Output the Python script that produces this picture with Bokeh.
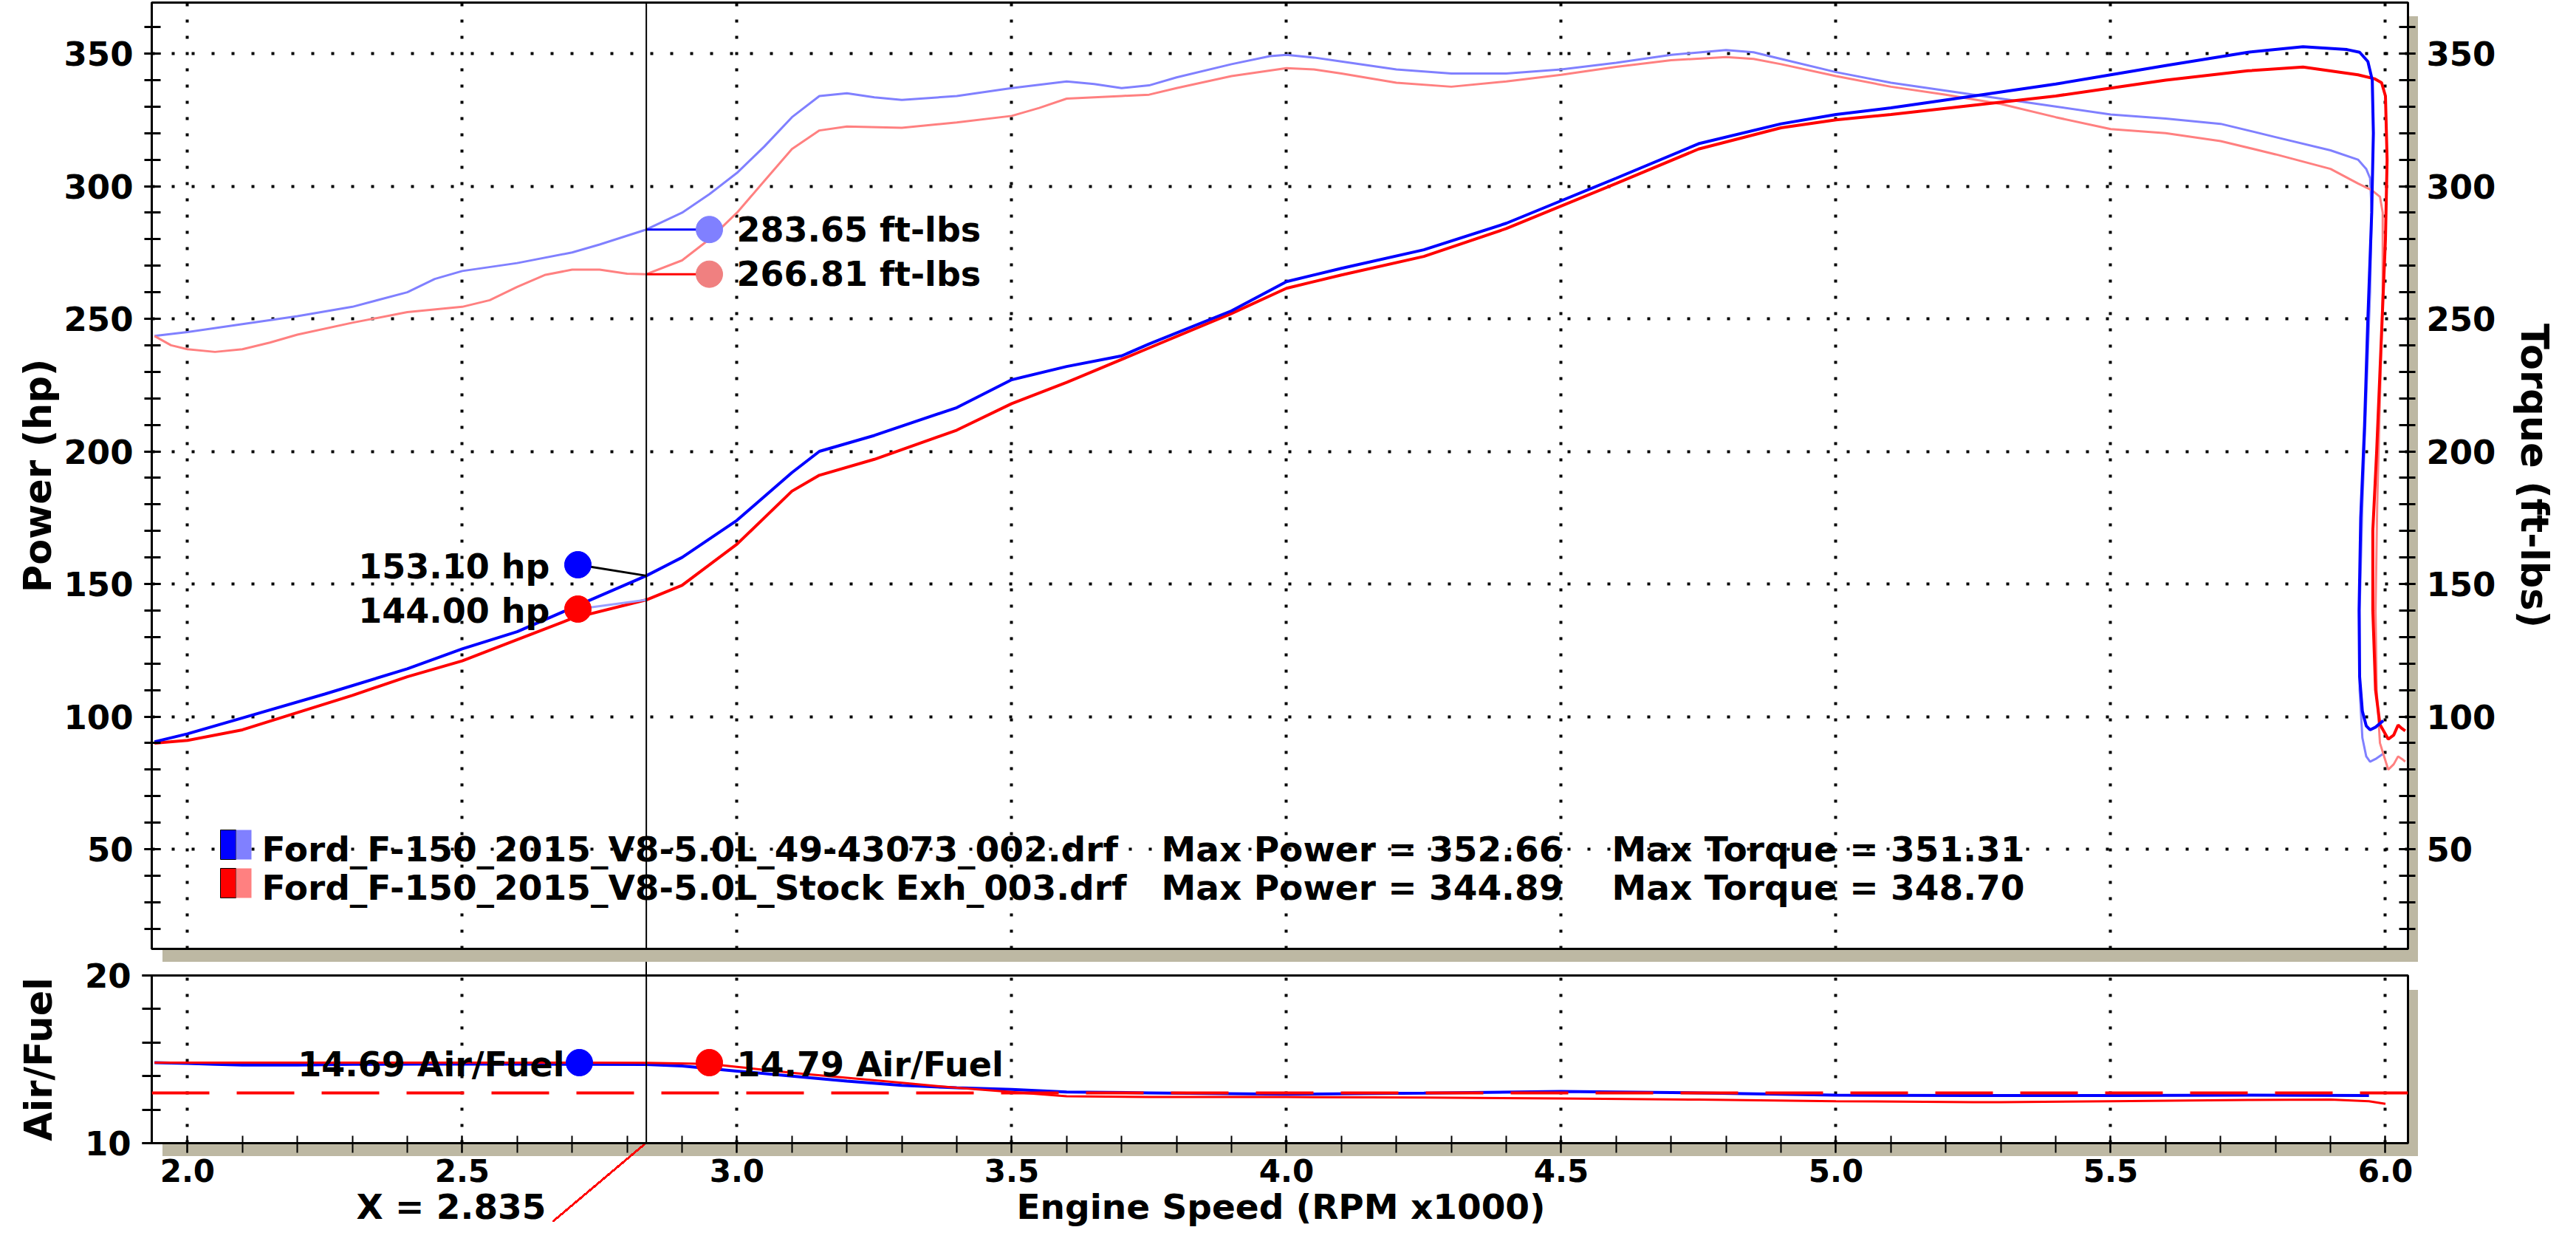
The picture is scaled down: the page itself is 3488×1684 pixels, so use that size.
import math
from bokeh.plotting import figure
from bokeh.layouts import column
from bokeh.models import (LinearAxis, SingleIntervalTicker, FixedTicker, Label, Span,
                          Range1d, NumeralTickFormatter, Grid)
from bokeh.embed import file_html
from bokeh.resources import INLINE

FONT = "DejaVu Sans"

# ---------------- data ----------------
legend_names = ["Ford_F-150_2015_V8-5.0L_49-43073_002.drf",
                "Ford_F-150_2015_V8-5.0L_Stock Exh_003.drf"]
max_power = [352.66, 344.89]
max_torque = [351.31, 348.70]

cursor_rpm = 2.835
cursor_hp = [153.10, 144.00]
cursor_tq = [283.65, 266.81]
cursor_afr = [14.69, 14.79]
afr_target = 13.0

x_ticks = [2.0, 2.5, 3.0, 3.5, 4.0, 4.5, 5.0, 5.5, 6.0]
power_ticks = [50, 100, 150, 200, 250, 300, 350]

rpm_hp_blue = [1.94, 2.0, 2.1, 2.25, 2.4, 2.5, 2.6, 2.7, 2.835, 2.9, 3.0, 3.1, 3.15, 3.25, 3.4,
               3.5, 3.6, 3.7, 3.75, 3.9, 4.0, 4.1, 4.25, 4.4, 4.5, 4.6, 4.75, 4.9, 5.0, 5.1,
               5.25, 5.4, 5.5, 5.6, 5.75, 5.85, 5.93, 5.953, 5.968, 5.976, 5.978, 5.975, 5.968,
               5.962, 5.955, 5.952, 5.953, 5.958, 5.965, 5.972, 5.982, 5.996]
hp_blue = [90.5, 93.5, 99.5, 108.5, 118, 125.5, 132, 141, 153.1, 160, 174, 192, 200, 206, 216.5,
           227, 232, 236, 240.5, 253, 264, 269, 276, 286, 294.5, 303, 316, 323.5, 327, 329.5,
           334, 338.5, 342, 345.5, 350.5, 352.6, 351.5, 350.5, 347, 340, 320, 290, 250,
           210, 175, 140, 115, 102, 96.5, 95, 96, 98.5]

rpm_hp_red = [1.94, 2.0, 2.1, 2.2, 2.3, 2.4, 2.5, 2.6, 2.7, 2.835, 2.9, 3.0, 3.1, 3.15, 3.25,
              3.4, 3.5, 3.6, 3.75, 3.9, 4.0, 4.1, 4.25, 4.4, 4.5, 4.6, 4.75, 4.9, 5.0, 5.1,
              5.25, 5.4, 5.5, 5.6, 5.75, 5.85, 5.95, 5.98, 5.993, 6.0, 6.003, 6.0, 5.992,
              5.984, 5.977, 5.977, 5.982, 5.99, 6.005, 6.015, 6.023, 6.03, 6.036]
hp_red = [90, 91, 95, 101.5, 108, 115, 121, 129, 137, 144.0, 149.5, 165, 185, 191, 197,
          208, 218, 226, 239, 252, 261.5, 266.5, 273.5, 284, 292.5, 301, 314, 322, 325, 327,
          330.5, 334, 337, 340, 343.5, 344.9, 342, 340.5, 339, 334, 310, 280, 240,
          200, 170, 140, 110, 97, 91.5, 93, 96.8, 95.5, 94.6]

rpm_tq_blue = [1.94, 2.0, 2.1, 2.2, 2.3, 2.4, 2.45, 2.5, 2.6, 2.7, 2.75, 2.835, 2.9, 2.95, 3.0,
               3.05, 3.1, 3.15, 3.2, 3.25, 3.3, 3.4, 3.5, 3.6, 3.65, 3.7, 3.75, 3.8, 3.9, 3.97,
               4.0, 4.05, 4.1, 4.2, 4.3, 4.4, 4.5, 4.6, 4.7, 4.8, 4.85, 4.9, 5.0, 5.1, 5.2,
               5.3, 5.4, 5.5, 5.6, 5.7, 5.8, 5.9, 5.95, 5.965, 5.972, 5.975, 5.972, 5.965,
               5.958, 5.953, 5.953, 5.958, 5.965, 5.972, 5.982, 5.996]
tq_blue = [243.5, 245, 248, 251, 254.5, 260, 265, 268, 271, 275, 278, 283.65, 290, 297, 305,
           315, 326, 334, 335, 333.5, 332.5, 334, 337, 339.5, 338.5, 337, 338, 341, 346, 349,
           349.5, 348.5, 347, 344, 342.5, 342.5, 344, 346.5, 349.5, 351.3, 350.5, 348, 343, 339, 336,
           333, 330, 327, 325.5, 323.5, 318.5, 313.5, 310, 306.5, 303, 290, 260, 220,
           180, 140, 110, 92, 85, 83, 84, 86]

rpm_tq_red = [1.94, 1.97, 2.0, 2.05, 2.1, 2.15, 2.2, 2.3, 2.4, 2.5, 2.55, 2.6, 2.65, 2.7, 2.75,
              2.8, 2.835, 2.9, 2.95, 3.0, 3.05, 3.1, 3.15, 3.2, 3.3, 3.4, 3.5, 3.55, 3.6, 3.7,
              3.75, 3.8, 3.9, 4.0, 4.05, 4.1, 4.2, 4.3, 4.4, 4.5, 4.6, 4.7, 4.8, 4.85, 4.9,
              5.0, 5.1, 5.2, 5.3, 5.4, 5.5, 5.6, 5.7, 5.8, 5.9, 5.95, 5.975, 5.99, 5.995,
              5.995, 5.99, 5.985, 5.982, 5.984, 5.99, 6.005, 6.015, 6.023, 6.03, 6.036]
tq_red = [243.5, 240, 238.5, 237.5, 238.5, 241, 244, 248.5, 252.5, 254.5, 257, 262, 266.5, 268.5, 268.5,
          267, 266.81, 272, 280, 290, 302, 314, 321, 322.5, 322, 324, 326.5, 329.5, 333, 334,
          334.5, 337, 341.5, 344.5, 344, 342.5, 339, 337.5, 339.5, 342, 345, 347.5, 348.7, 348, 346,
          341.5, 337.5, 334.5, 331, 326, 321.5, 320, 317, 312, 306.5, 301, 298.5, 296, 290,
          260, 220, 180, 140, 110, 90, 80, 82, 85, 84, 83]

rpm_afr_blue = [1.94, 2.0, 2.05, 2.1, 2.2, 2.3, 2.5, 2.7, 2.835, 2.9, 3.0, 3.1, 3.2, 3.3, 3.4,
                3.5, 3.6, 3.75, 4.0, 4.25, 4.5, 4.75, 5.0, 5.25, 5.5, 5.75, 5.97]
afr_blue = [14.80, 14.76, 14.70, 14.66, 14.66, 14.70, 14.72, 14.70, 14.69, 14.60, 14.30, 14.00,
            13.70, 13.45, 13.30, 13.20, 13.05, 13.00, 12.92, 12.98, 13.08, 13.00, 12.86, 12.84,
            12.84, 12.86, 12.84]
rpm_afr_red = [1.94, 2.0, 2.2, 2.5, 2.7, 2.835, 2.95, 3.0, 3.1, 3.2, 3.3, 3.4, 3.5, 3.6, 3.75,
               4.0, 4.25, 4.5, 4.75, 5.0, 5.25, 5.3, 5.5, 5.75, 5.9, 5.97, 6.0]
afr_red = [14.80, 14.80, 14.80, 14.80, 14.80, 14.79, 14.72, 14.55, 14.20, 13.90, 13.60, 13.30,
           13.05, 12.80, 12.75, 12.75, 12.72, 12.66, 12.60, 12.50, 12.45, 12.44, 12.50, 12.58,
           12.60, 12.50, 12.35]

# ---------------- colours / geometry ----------------
BLUE, LBLUE = "#0000ff", "#8080ff"
RED, LRED = "#ff0000", "#ff8080"
SHADOW = "#bdb8a3"

X0, X1 = 1.935, 6.041
Y0, Y1 = 12.4, 369.22
FL, FR = 213, 3268          # frame left/right (page px)
TT, TB = 11, 1292           # top frame top/bottom
BT, BB = 1328, 1555         # bottom frame top/bottom
PXU = (FR - FL) / (X1 - X0)
PYU = (TB - TT) / (Y1 - Y0)
BYU = (BB - BT) / 10.0

def tx(px): return X0 + (px - FL) / PXU
def ty(py): return Y1 - (py - TT) / PYU
def by(py): return 20 - (py - BT) / BYU

def lab(fig, x, y, text, size, align="left", color="black"):
    fig.add_layout(Label(x=x, y=y, text=text, text_font=FONT, text_font_style="bold",
                         text_font_size=f"{size}px", text_align=align, text_baseline="middle",
                         text_color=color))

def style_axis(ax, tick_in=12, tick_out=10, width=3, size=45):
    ax.axis_line_width = 3
    ax.axis_line_color = "black"
    ax.major_tick_in = tick_in
    ax.major_tick_out = tick_out
    ax.minor_tick_in = tick_in
    ax.minor_tick_out = tick_out
    ax.major_tick_line_width = width
    ax.minor_tick_line_width = width
    ax.major_tick_line_color = "black"
    ax.minor_tick_line_color = "black"
    ax.major_label_text_font = FONT
    ax.major_label_text_font_style = "bold"
    ax.major_label_text_font_size = f"{size}px"
    ax.major_label_text_color = "black"
    ax.major_label_standoff = 15
    ax.axis_label_text_font = FONT
    ax.axis_label_text_font_style = "bold"
    ax.axis_label_text_font_size = "51px"
    ax.axis_label_text_color = "black"

def grad(x, y, w, h, color):
    return f"linear-gradient({color},{color}) {x}px {y}px / {w}px {h}px no-repeat"

cx_px = FL + (cursor_rpm - X0) * PXU   # cursor position on page

# page-level decorations behind the transparent figure borders (drop shadows, cursor gap)
top_bg = ", ".join([
    grad(FR - 8, 22, 14, 1280, SHADOW),
    grad(220, TB - 8, FR + 14 - 228, 18, SHADOW),
    grad(round(cx_px) - 9, TB - 8, 2, 18, "#000000"),
])
ldr_w, ldr_h = round(cx_px) - 756, 1662 - BB
bot_bg = ", ".join([
    grad(round(cx_px) - 9, 0, 2, 18, "#000000"),
    (f"linear-gradient(to bottom right, transparent calc(50% - 1.5px), {RED} calc(50% - 1.5px), "
     f"{RED} calc(50% + 1.5px), transparent calc(50% + 1.5px)) 748px {BB - 1310}px / "
     f"{ldr_w}px {ldr_h}px no-repeat"),
    grad(FR - 8, 38, 14, 225, SHADOW),
    grad(220, BB - 1310, FR + 14 - 228, 18, SHADOW),
])

# ---------------- top panel ----------------
p = figure(width=3472, height=1302, x_range=Range1d(X0, X1), y_range=Range1d(Y0, Y1),
           output_backend="svg", toolbar_location=None, x_axis_location=None,
           y_axis_location="left", min_border_left=FL - 8, min_border_right=3480 - FR,
           min_border_top=TT - 8, min_border_bottom=18, styles={"background": top_bg})
p.border_fill_alpha = 0
p.background_fill_color = "white"
p.outline_line_color = "black"
p.outline_line_width = 3
p.outline_line_alpha = 1.0

p.yaxis.ticker = SingleIntervalTicker(interval=50, num_minor_ticks=5)
style_axis(p.yaxis[0])
p.yaxis.axis_label = "Power (hp)"
p.yaxis.axis_label_standoff = 3
rax = LinearAxis(ticker=SingleIntervalTicker(interval=50, num_minor_ticks=5))
style_axis(rax)
rax.axis_label = "Torque (ft-lbs)"
rax.axis_label_standoff = 20
p.add_layout(rax, "right")

if len(p.xgrid) == 0:
    p.add_layout(Grid(dimension=0, ticker=FixedTicker(ticks=x_ticks)))
else:
    p.xgrid.ticker = FixedTicker(ticks=x_ticks)
p.ygrid.ticker = FixedTicker(ticks=power_ticks)
for g in p.xgrid:
    g.grid_line_color = "black"
    g.grid_line_width = 4
    g.grid_line_dash = "4 18"
for g in p.ygrid:
    g.grid_line_color = "black"
    g.grid_line_width = 4
    g.grid_line_dash = "4 23"

p.line(rpm_tq_blue, tq_blue, line_color=LBLUE, line_width=3)
p.line(rpm_tq_red, tq_red, line_color=LRED, line_width=3)
p.line(rpm_hp_red, hp_red, line_color=RED, line_width=4)
p.line(rpm_hp_blue, hp_blue, line_color=BLUE, line_width=4)

p.add_layout(Span(location=cursor_rpm, dimension="height", line_color="black", line_width=2))

# cursor read-outs (torque)
tq_dot_x = tx(968)
p.segment(x0=[cursor_rpm, cursor_rpm], y0=cursor_tq, x1=[tq_dot_x, tq_dot_x], y1=cursor_tq,
          line_color=[BLUE, RED], line_width=3)
p.scatter([tq_dot_x, tq_dot_x], cursor_tq, size=36, fill_color=[LBLUE, "#f08080"],
          line_color=[LBLUE, "#f08080"])
lab(p, tx(1005), cursor_tq[0], f"{cursor_tq[0]:.2f} ft-lbs", 46)
lab(p, tx(1005), cursor_tq[1], f"{cursor_tq[1]:.2f} ft-lbs", 46)

# cursor read-outs (power)
hp_dot_x = tx(790)
hp_dot_y = [ty(772), ty(832)]
p.segment(x0=[hp_dot_x, hp_dot_x], y0=hp_dot_y, x1=[cursor_rpm, cursor_rpm], y1=cursor_hp,
          line_color=["black", "#9aa0ff"], line_width=3)
p.scatter([hp_dot_x, hp_dot_x], hp_dot_y, size=36, fill_color=[BLUE, RED], line_color=[BLUE, RED])
lab(p, tx(752), ty(774), f"{cursor_hp[0]:.2f} hp", 46, align="right")
lab(p, tx(752), ty(834), f"{cursor_hp[1]:.2f} hp", 46, align="right")

# legend
sw_top = [ty(1131), ty(1183)]
sw_bot = [ty(1171), ty(1223)]
p.quad(left=[tx(306)] * 2, right=[tx(327)] * 2, top=sw_top, bottom=sw_bot,
       fill_color=[BLUE, RED], line_color="black", line_width=1)
p.quad(left=[tx(327)] * 2, right=[tx(348)] * 2, top=sw_top, bottom=sw_bot,
       fill_color=[LBLUE, LRED], line_alpha=0)
for i, yy in enumerate([1157, 1209]):
    lab(p, tx(362), ty(yy), legend_names[i], 47)
    lab(p, tx(1580), ty(yy), f"Max Power = {max_power[i]:.2f}", 47)
    lab(p, tx(2190), ty(yy), f"Max Torque = {max_torque[i]:.2f}", 47)

# ---------------- bottom panel ----------------
q = figure(width=3472, height=366, x_range=p.x_range, y_range=Range1d(10, 20),
           output_backend="svg", toolbar_location=None, min_border_left=FL - 8,
           min_border_right=3480 - FR, min_border_top=18, min_border_bottom=121,
           styles={"background": bot_bg})
q.border_fill_alpha = 0
q.background_fill_color = "white"
q.outline_line_color = "black"
q.outline_line_width = 3
q.outline_line_alpha = 1.0

q.xaxis.ticker = SingleIntervalTicker(interval=0.5, num_minor_ticks=5)
q.xaxis.formatter = NumeralTickFormatter(format="0.0")
style_axis(q.xaxis[0], tick_in=10, tick_out=13, width=2, size=42)
q.xaxis.major_label_standoff = 8
q.yaxis.ticker = SingleIntervalTicker(interval=10, num_minor_ticks=5)
style_axis(q.yaxis[0], tick_in=12, tick_out=13, width=3, size=45)
q.yaxis.axis_label = "Air/Fuel"
q.yaxis.axis_label_standoff = 30
q.xgrid.ticker = FixedTicker(ticks=x_ticks)
q.xgrid.grid_line_color = "black"
q.xgrid.grid_line_width = 4
q.xgrid.grid_line_dash = "4 18"
q.ygrid.visible = False

# second row under the x axis: axis title and cursor position read-out
title_x = round(tx(1741), 2)
cur_lab_x = round(tx(621), 2)
ax2 = LinearAxis(ticker=FixedTicker(ticks=[cur_lab_x, title_x]),
                 major_label_overrides={cur_lab_x: f"X = {cursor_rpm:.3f}",
                                        title_x: "Engine Speed (RPM x1000)"})
ax2.axis_line_alpha = 0
ax2.major_tick_in = 0
ax2.major_tick_out = 0
ax2.minor_tick_in = 0
ax2.minor_tick_out = 0
ax2.major_label_standoff = 3
ax2.major_label_text_font = FONT
ax2.major_label_text_font_style = "bold"
ax2.major_label_text_font_size = "47px"
ax2.major_label_text_color = "black"
q.add_layout(ax2, "below")

q.add_layout(Span(location=afr_target, dimension="width", line_color=RED, line_width=4,
                  line_dash="78 37"))
q.line(rpm_afr_blue, afr_blue, line_color=BLUE, line_width=4)
q.line(rpm_afr_red, afr_red, line_color=RED, line_width=3)
q.add_layout(Span(location=cursor_rpm, dimension="height", line_color="black", line_width=2))

q.scatter([tx(792), tx(968)], [by(1446), by(1446)], size=36, fill_color=[BLUE, RED],
          line_color=[BLUE, RED])
lab(q, tx(772), by(1448), f"{cursor_afr[0]:.2f} Air/Fuel", 46, align="right")
lab(q, tx(1005), by(1448), f"{cursor_afr[1]:.2f} Air/Fuel", 46)

layout = column(p, q, spacing=0)
open("out.html", "w").write(file_html(layout, INLINE))
